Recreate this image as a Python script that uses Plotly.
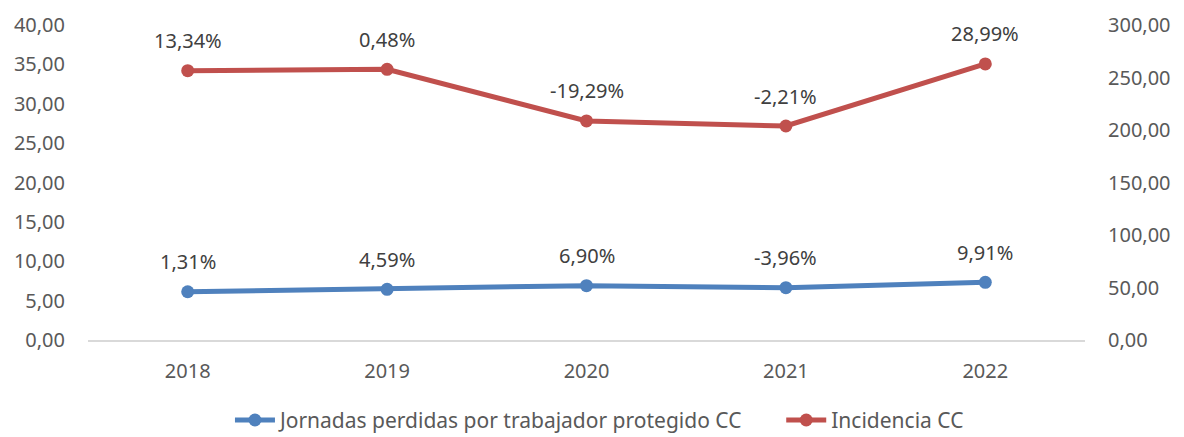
import plotly.graph_objects as go

years = ["2018", "2019", "2020", "2021", "2022"]
jornadas = [6.13, 6.44, 6.90, 6.64, 7.33]
incidencia = [256.5, 257.8, 208.6, 203.8, 262.9]
jornadas_labels = ["1,31%", "4,59%", "6,90%", "-3,96%", "9,91%"]
incidencia_labels = ["13,34%", "0,48%", "-19,29%", "-2,21%", "28,99%"]
left_ticks = [0, 5, 10, 15, 20, 25, 30, 35, 40]
right_ticks = [0, 50, 100, 150, 200, 250, 300]

BLUE = "#4F81BD"
RED = "#C0504D"
GREY = "#595959"
FONT = "Noto Sans"
FS = 20

def fmt(v):
    return f"{v:.2f}".replace(".", ",")

fig = go.Figure()
fig.add_trace(go.Scatter(
    x=years, y=jornadas, mode="lines+markers",
    name="Jornadas perdidas por trabajador protegido CC" + "\u00a0" * 6,
    line=dict(color=BLUE, width=5), marker=dict(color=BLUE, size=13),
    yaxis="y"))
fig.add_trace(go.Scatter(
    x=years, y=incidencia, mode="lines+markers",
    name="Incidencia CC",
    line=dict(color=RED, width=5), marker=dict(color=RED, size=13),
    yaxis="y2"))

annotations = []
for i, (y, t) in enumerate(zip(jornadas, jornadas_labels)):
    annotations.append(dict(x=i, y=y, xref="x", yref="y", text=t, showarrow=False,
                            yshift=30, font=dict(family=FONT, size=FS, color="#404040")))
for i, (y, t) in enumerate(zip(incidencia, incidencia_labels)):
    annotations.append(dict(x=i, y=y, xref="x", yref="y2", text=t, showarrow=False,
                            yshift=30, font=dict(family=FONT, size=FS, color="#404040")))

fig.update_layout(
    width=1176, height=429,
    margin=dict(l=80, r=99, t=17, b=97, autoexpand=False),
    paper_bgcolor="white", plot_bgcolor="white",
    font=dict(family=FONT, size=FS, color=GREY),
    showlegend=True,
    legend=dict(orientation="h", x=0.513, xanchor="center", y=-0.255, yanchor="middle",
                font=dict(family=FONT, size=21, color=GREY),
                itemwidth=40, traceorder="normal"),
    xaxis=dict(type="category", range=[-0.5, 4.5], showgrid=False,
               showline=True, linecolor="#D9D9D9", linewidth=1.5,
               ticks="outside", ticklen=12, tickcolor="rgba(0,0,0,0)",
               tickfont=dict(family=FONT, size=FS, color=GREY), zeroline=False),
    yaxis=dict(range=[0, 40], tickvals=left_ticks, ticktext=[fmt(v) for v in left_ticks],
               showgrid=False, zeroline=False, showline=False,
               ticks="outside", ticklen=18, tickcolor="rgba(0,0,0,0)",
               tickfont=dict(family=FONT, size=FS, color=GREY)),
    yaxis2=dict(range=[0, 300], tickvals=right_ticks, ticktext=[fmt(v) for v in right_ticks],
                overlaying="y", side="right", showgrid=False, zeroline=False, showline=False,
                ticks="outside", ticklen=18, tickcolor="rgba(0,0,0,0)",
                tickfont=dict(family=FONT, size=FS, color=GREY)),
    annotations=annotations,
)

fig.write_html("out.html")
